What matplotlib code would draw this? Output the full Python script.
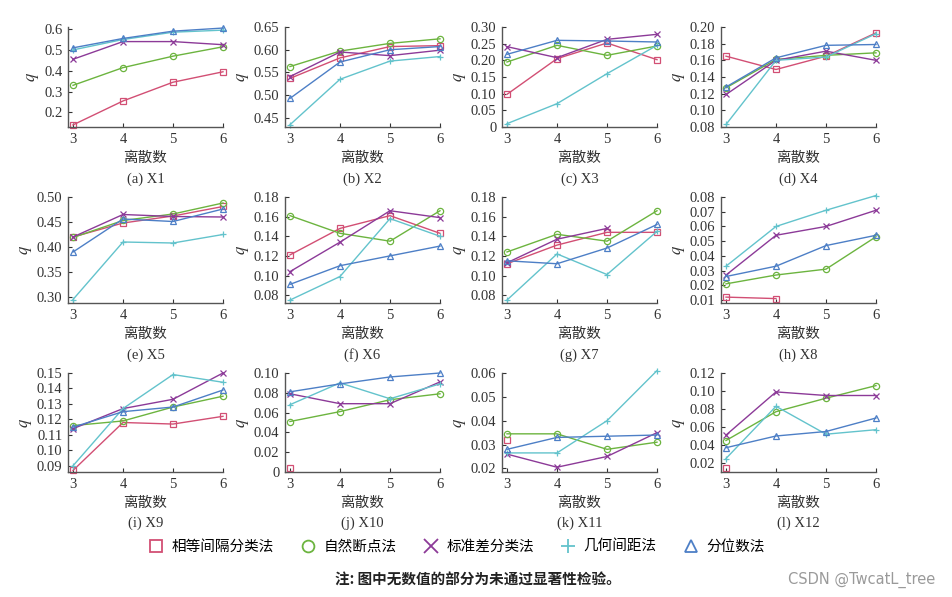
import numpy as np
import matplotlib
matplotlib.use("Agg")
import matplotlib.pyplot as plt
from matplotlib.ticker import FuncFormatter

plt.rcParams['font.family'] = ['Liberation Serif', 'Noto Sans CJK SC', 'DejaVu Sans']
plt.rcParams['mathtext.fontset'] = 'stix'

x = [3, 4, 5, 6]
nan = np.nan

methods = ["相等间隔分类法", "自然断点法", "标准差分类法", "几何间距法", "分位数法"]
colors = ["#d24f74", "#6cb43f", "#8c3a98", "#63c3cc", "#4d7fc6"]
markers = ["s", "o", "x", "+", "^"]

panels = ["X1", "X2", "X3", "X4", "X5", "X6", "X7", "X8", "X9", "X10", "X11", "X12"]

# q values per panel, order: equal interval, natural breaks, std, geometric, quantile
X1 = [[0.140, 0.255, 0.345, 0.395], [0.330, 0.415, 0.470, 0.515], [0.455, 0.540, 0.540, 0.525],
      [0.500, 0.550, 0.585, 0.595], [0.510, 0.555, 0.590, 0.605]]
X2 = [[0.537, 0.582, 0.607, 0.609], [0.563, 0.597, 0.614, 0.624], [0.541, 0.595, 0.587, 0.599],
      [0.435, 0.535, 0.575, 0.585], [0.493, 0.573, 0.600, 0.607]]
X3 = [[0.098, 0.205, 0.252, 0.202], [0.195, 0.245, 0.215, 0.243], [0.241, 0.208, 0.263, 0.278],
      [0.010, 0.070, 0.160, 0.245], [0.218, 0.260, 0.258, 0.255]]
X4 = [[0.165, 0.149, 0.165, 0.193], [0.127, 0.161, 0.166, 0.169], [0.119, 0.160, 0.171, 0.160],
      [0.083, 0.160, 0.164, 0.192], [0.128, 0.163, 0.178, 0.179]]
X5 = [[0.420, 0.448, 0.462, 0.481], [0.419, 0.453, 0.466, 0.488], [0.420, 0.465, 0.461, 0.460],
      [0.295, 0.410, 0.408, 0.425], [0.390, 0.456, 0.451, 0.476]]
X6 = [[0.121, 0.148, 0.161, 0.143], [0.161, 0.143, 0.135, 0.166], [0.104, 0.134, 0.166, 0.159],
      [0.075, 0.099, 0.158, 0.140], [0.091, 0.110, 0.120, 0.130]]
X7 = [[0.112, 0.131, 0.144, 0.144], [0.124, 0.142, 0.135, 0.166], [0.113, 0.137, 0.148, nan],
      [0.075, 0.122, 0.101, 0.145], [0.115, 0.112, 0.128, 0.152]]
X8 = [[0.012, 0.011, nan, nan], [0.021, 0.027, 0.031, 0.053], [0.027, 0.054, 0.060, 0.071],
      [0.033, 0.060, 0.071, 0.081], [0.026, 0.033, 0.047, 0.054]]
X9 = [[0.087, 0.118, 0.117, 0.122], [0.116, 0.119, 0.128, 0.135], [0.114, 0.127, 0.133, 0.150],
      [0.090, 0.127, 0.149, 0.144], [0.115, 0.125, 0.128, 0.139]]
X10 = [[0.004, nan, nan, nan], [0.051, 0.061, 0.073, 0.079], [0.079, 0.069, 0.069, 0.091],
       [0.068, 0.090, 0.074, 0.089], [0.081, 0.089, 0.096, 0.100]]
X11 = [[0.032, nan, nan, nan], [0.0345, 0.0345, 0.028, 0.031], [0.026, 0.0205, 0.025, 0.035],
       [0.0265, 0.0265, 0.040, 0.061], [0.028, 0.033, 0.0335, 0.034]]
X12 = [[0.014, nan, nan, nan], [0.045, 0.077, 0.092, 0.106], [0.051, 0.099, 0.095, 0.095],
       [0.025, 0.083, 0.052, 0.057], [0.037, 0.050, 0.055, 0.070]]
data = [X1, X2, X3, X4, X5, X6, X7, X8, X9, X10, X11, X12]

ylims = [(0.13, 0.61), (0.43, 0.65), (0.0, 0.30), (0.08, 0.20), (0.288, 0.50), (0.072, 0.18),
         (0.072, 0.18), (0.008, 0.08), (0.086, 0.15), (0.0, 0.10), (0.0185, 0.06), (0.01, 0.12)]
yticks = [np.arange(0.2, 0.61, 0.1), np.arange(0.45, 0.651, 0.05), np.arange(0, 0.301, 0.05),
          np.arange(0.08, 0.201, 0.02), np.arange(0.30, 0.501, 0.05), np.arange(0.08, 0.181, 0.02),
          np.arange(0.08, 0.181, 0.02), np.arange(0.01, 0.081, 0.01), np.arange(0.09, 0.151, 0.01),
          np.arange(0, 0.101, 0.02), np.arange(0.02, 0.061, 0.01), np.arange(0.02, 0.121, 0.02)]

W, H = 952, 597
fig = plt.figure(figsize=(W / 100, H / 100), dpi=100)

lefts = [68, 285, 502, 721]
rows = [(27, 127), (197, 303), (373, 472)]
letters = "abcdefghijkl"

for i, name in enumerate(panels):
    r, c = divmod(i, 4)
    top, bot = rows[r]
    ax = fig.add_axes([lefts[c] / W, 1 - bot / H, 155 / W, (bot - top) / H])
    for k in range(5):
        y = np.array(data[i][k], dtype=float)
        ax.plot(x, y, color=colors[k], marker=markers[k], ms=4.5, mfc="none",
                mew=0.9, lw=1.0, clip_on=False)
    ax.set_xlim(2.9, 6.0)
    ax.set_ylim(*ylims[i])
    ax.set_xticks(x)
    ax.set_yticks(yticks[i])
    if i == 0:
        ax.yaxis.set_major_formatter(FuncFormatter(lambda v, p: f"{v:.1f}"))
    else:
        ax.yaxis.set_major_formatter(FuncFormatter(lambda v, p: "0" if abs(v) < 1e-9 else f"{v:.2f}"))
    for s in ["top", "right"]:
        ax.spines[s].set_visible(False)
    for s in ["left", "bottom"]:
        ax.spines[s].set_color("#555555")
        ax.spines[s].set_linewidth(1.0)
    ax.tick_params(direction="in", length=3, labelsize=10.5, colors="#333333", pad=4)
    ax.set_xlabel("离散数", fontsize=10.5, family=['Noto Sans CJK SC'], labelpad=4, color="#333333")
    ax.set_ylabel("$q$", fontsize=12, labelpad=2, color="#333333")
    ax.text(0.5, -0.52 if r != 1 else -0.49, f"({letters[i]}) {name}", transform=ax.transAxes,
            ha="center", va="center", fontsize=10.5, color="#333333")

handles = [plt.Line2D([], [], ls="none", marker=markers[k], color=colors[k], mfc="none",
                      ms=10 if markers[k] in ("x", "+") else 8.5, mew=1.3) for k in range(5)]
fig.legend(handles, methods, loc="center", bbox_to_anchor=(455 / W, 1 - 547 / H), ncol=5,
           frameon=False, prop={'family': ['Noto Sans CJK SC'], 'size': 10.5},
           handletextpad=0.3, handlelength=1.5, columnspacing=1.6)

fig.text(478 / W, 1 - 580 / H, "注: 图中无数值的部分为未通过显著性检验。", ha="center", va="center",
         fontsize=10.5, family=['Noto Sans CJK SC'], weight="bold", color="#222222")
fig.text(935 / W, 1 - 580 / H, "CSDN @TwcatL_tree", ha="right", va="center",
         fontsize=10.5, family=['DejaVu Sans'], color="#9a9a9a")

fig.savefig("out.png", dpi=100)
